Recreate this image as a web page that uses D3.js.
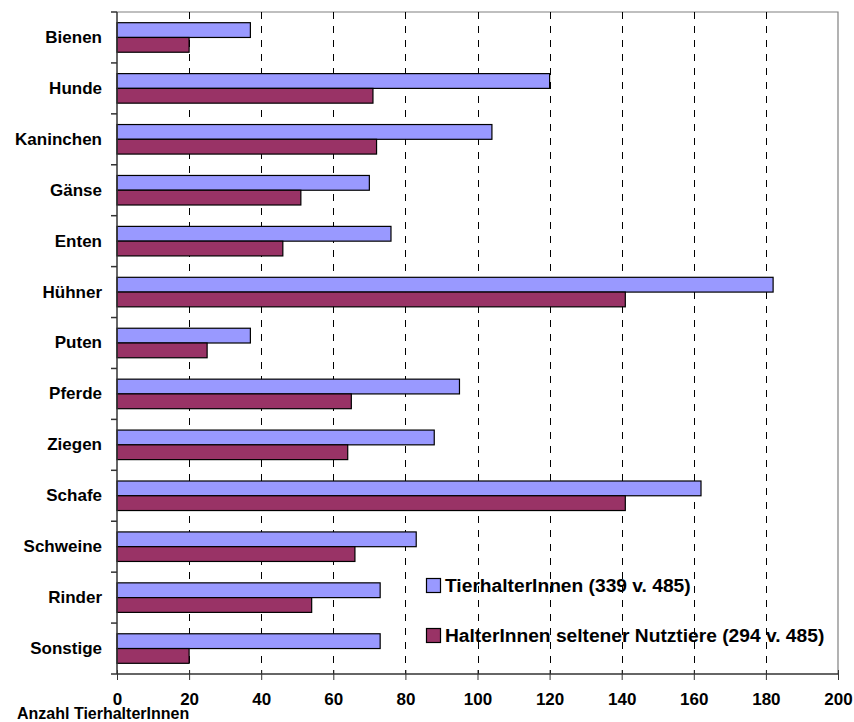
<!doctype html>
<html>
<head>
    <meta charset="utf-8">
    <title>TierhalterInnen</title>
    <style>
        body { margin: 0; background: #fff; }
        text { font-family: "Liberation Sans", Arial, sans-serif; font-weight: bold; fill: #000; }
    </style>
</head>
<body>
    <div id="chart"></div>

    <script src="https://d3js.org/d3.v7.min.js"></script>
    <script>
        // data
        var categories = ["Bienen", "Hunde", "Kaninchen", "Gänse", "Enten", "Hühner", "Puten",
                          "Pferde", "Ziegen", "Schafe", "Schweine", "Rinder", "Sonstige"];
        var tierhalter = [37, 120, 104, 70, 76, 182, 37, 95, 88, 162, 83, 73, 73];
        var seltene    = [20, 71, 72, 51, 46, 141, 25, 65, 64, 141, 66, 54, 20];
        var seriesNames = ["TierhalterInnen (339 v. 485)", "HalterInnen seltener Nutztiere (294 v. 485)"];
        var xTicks = [0, 20, 40, 60, 80, 100, 120, 140, 160, 180, 200];
        var xLabel = "Anzahl TierhalterInnen";

        var colors = ["#9999ff", "#993366"];

        var margin = {top: 12, right: 16, bottom: 48, left: 117},
            width = 854 - margin.left - margin.right,
            height = 722 - margin.top - margin.bottom;

        var svg = d3.select("#chart")
            .append("svg")
                .attr("width", 854)
                .attr("height", 722)
            .append("g")
                .attr("transform", "translate(" + margin.left + "," + margin.top + ")");

        var x = d3.scaleLinear()
            .domain([0, 200])
            .range([0, width]);

        var y = d3.scaleBand()
            .domain(categories)
            .range([0, height])
            .paddingInner(0.42)
            .paddingOuter(0.21);

        var ySub = d3.scaleBand()
            .domain([0, 1])
            .range([0, y.bandwidth()]);

        // frame (top and right)
        svg.append("path")
            .attr("d", "M0,0H" + width + "V" + height)
            .attr("fill", "none")
            .attr("stroke", "#808080")
            .attr("stroke-width", 1.2);

        // dashed gridlines
        svg.append("g")
            .selectAll("line")
            .data(xTicks.filter(function (d) { return d > 0 && d < 200; }))
            .enter()
            .append("line")
                .attr("x1", function (d) { return Math.round(x(d)) + 0.5; })
                .attr("x2", function (d) { return Math.round(x(d)) + 0.5; })
                .attr("y1", 0)
                .attr("y2", height)
                .attr("stroke", "#000")
                .attr("stroke-width", 1)
                .attr("stroke-dasharray", "7,7");

        // bars
        var rows = categories.map(function (c, i) { return {cat: c, vals: [tierhalter[i], seltene[i]]}; });

        var groups = svg.append("g")
            .selectAll("g")
            .data(rows)
            .enter()
            .append("g")
                .attr("transform", function (d) { return "translate(0," + y(d.cat) + ")"; });

        groups.selectAll("rect")
            .data(function (d) { return d.vals.map(function (v, k) { return {k: k, v: v}; }); })
            .enter()
            .append("rect")
                .attr("x", x(0))
                .attr("y", function (d) { return ySub(d.k); })
                .attr("width", function (d) { return x(d.v) - x(0); })
                .attr("height", ySub.bandwidth())
                .attr("fill", function (d) { return colors[d.k]; })
                .attr("stroke", "#000")
                .attr("stroke-width", 1.2);

        // x axis
        var xAxis = svg.append("g")
            .attr("transform", "translate(0," + height + ")")
            .call(d3.axisBottom(x).tickValues(xTicks).tickSize(6).tickSizeOuter(0));
        xAxis.select(".domain").attr("stroke", "#333").attr("stroke-width", 1.5)
            .attr("d", "M-6,0H" + width);
        xAxis.selectAll(".tick line").attr("y1", -4).attr("y2", 6).attr("stroke", "#333");
        xAxis.selectAll(".tick text")
            .attr("y", 31)
            .attr("dy", null)
            .style("font-size", "17px")
            .style("font-weight", "bold")
            .style("font-family", "'Liberation Sans', Arial, sans-serif");

        // y axis
        var yAxis = svg.append("g")
            .call(d3.axisLeft(y).tickSize(0).tickPadding(15));
        yAxis.select(".domain").attr("stroke", "#333").attr("stroke-width", 1.5)
            .attr("d", "M0,0V" + height);
        yAxis.selectAll(".tick text")
            .style("font-size", "17px")
            .style("font-weight", "bold")
            .style("font-family", "'Liberation Sans', Arial, sans-serif");

        // category separator ticks
        svg.append("g")
            .selectAll("line")
            .data(d3.range(categories.length))
            .enter()
            .append("line")
                .attr("x1", -6)
                .attr("x2", 0)
                .attr("y1", function (i) { return i * y.step(); })
                .attr("y2", function (i) { return i * y.step(); })
                .attr("stroke", "#333")
                .attr("stroke-width", 1.5);

        // axis title
        d3.select("svg").append("text")
            .attr("x", 17)
            .attr("y", 719)
            .style("font-size", "16px")
            .text(xLabel);

        // legend
        var legend = d3.select("svg").append("g")
            .attr("transform", "translate(426,578)");

        var items = legend.selectAll("g")
            .data(seriesNames)
            .enter()
            .append("g")
                .attr("transform", function (d, i) { return "translate(0," + (i * 50) + ")"; });

        items.append("rect")
            .attr("x", 0.5)
            .attr("y", 0.5)
            .attr("width", 14)
            .attr("height", 14)
            .attr("fill", function (d, i) { return colors[i]; })
            .attr("stroke", "#000")
            .attr("stroke-width", 1.2);

        items.append("text")
            .attr("x", 19)
            .attr("y", 14)
            .style("font-size", "19.2px")
            .text(function (d) { return d; });
    </script>
</body>
</html>
